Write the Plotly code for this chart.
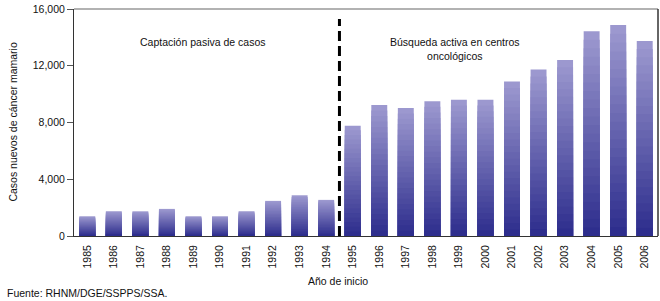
import plotly.graph_objects as go

years = [str(y) for y in range(1985, 2007)]
cases = [1390, 1745, 1740, 1910, 1390, 1390, 1745, 2475, 2870, 2545,
         7770, 9225, 9015, 9505, 9600, 9600, 10885, 11730, 12410, 14430, 14870, 13750]
y_ticks = [0, 4000, 8000, 12000, 16000]
y_ticktext = ["0", "4,000", "8,000", "12,000", "16,000"]
split_year = "1995"
label_left = "Captación pasiva de casos"
label_right = "Búsqueda activa en centros<br>oncológicos"
y_title = "Casos nuevos de cáncer mamario"
x_title = "Año de inicio"
source = "Fuente: RHNM/DGE/SSPPS/SSA."

FONT = "Liberation Sans, Arial, Helvetica, sans-serif"
FS = 10.5
TXT = "#111"

top_rgb = (158, 154, 208)
bot_rgb = (44, 44, 140)
N = 24

fig = go.Figure()
for k in range(N, 0, -1):
    frac = k / N
    t = (k - 0.5) / N
    c = tuple(round(bot_rgb[i] + (top_rgb[i] - bot_rgb[i]) * t) for i in range(3))
    fig.add_trace(go.Bar(
        x=years, y=[v * frac for v in cases],
        marker=dict(color="rgb(%d,%d,%d)" % c, line=dict(width=0)),
        showlegend=False, hoverinfo="skip",
    ))

split_idx = years.index(split_year) - 0.5
fig.add_shape(type="line", xref="x", yref="y", x0=split_idx, x1=split_idx,
              y0=0, y1=15300, line=dict(color="black", width=3, dash="10px,5px"))

fig.add_annotation(text=label_left, xref="paper", yref="paper", x=0.221, y=0.855,
                   showarrow=False, font=dict(size=FS, color=TXT), xanchor="center",
                   yanchor="middle")
fig.add_annotation(text=label_right, xref="paper", yref="paper", x=0.652, y=0.824,
                   showarrow=False, font=dict(size=FS, color=TXT), xanchor="center",
                   yanchor="middle")
fig.add_annotation(text=y_title, xref="paper", yref="paper", x=-0.106, y=0.5,
                   textangle=-90, showarrow=False, font=dict(size=FS, color=TXT),
                   xanchor="center", yanchor="middle")
fig.add_annotation(text=x_title, xref="paper", yref="paper", x=0.452, y=-0.198,
                   showarrow=False, font=dict(size=FS, color=TXT),
                   xanchor="center", yanchor="middle")
fig.add_annotation(text=source, xref="paper", yref="paper", x=-0.118, y=-0.251,
                   showarrow=False, font=dict(size=FS, color=TXT),
                   xanchor="left", yanchor="middle")

fig.update_layout(
    width=660, height=301,
    margin=dict(l=74, r=2, t=9, b=65),
    paper_bgcolor="white", plot_bgcolor="white",
    barmode="overlay", bargap=0.4,
    font=dict(family=FONT, size=FS, color=TXT),
    xaxis=dict(type="category", tickangle=-90, showline=True, linecolor="#333",
               linewidth=1, ticks="", showgrid=False, range=[-0.5, len(years) - 0.5],
               automargin=False, ticklabelstandoff=4),
    yaxis=dict(range=[0, 16000], tickvals=y_ticks, ticktext=y_ticktext,
               ticks="outside", ticklen=6, tickcolor="#555", showline=True,
               linecolor="#333", linewidth=1, showgrid=False, zeroline=False,
               automargin=False),
)
fig.add_shape(type="line", xref="paper", yref="paper", x0=0, x1=1, y0=1, y1=1,
              line=dict(color="#999", width=1.5))
fig.add_shape(type="line", xref="paper", yref="paper", x0=1, x1=1, y0=0, y1=1,
              line=dict(color="#333", width=1.5))

fig.write_html("out.html", config={"displayModeBar": False},
               post_script="document.body.style.margin='0';document.body.style.overflow='hidden';")
